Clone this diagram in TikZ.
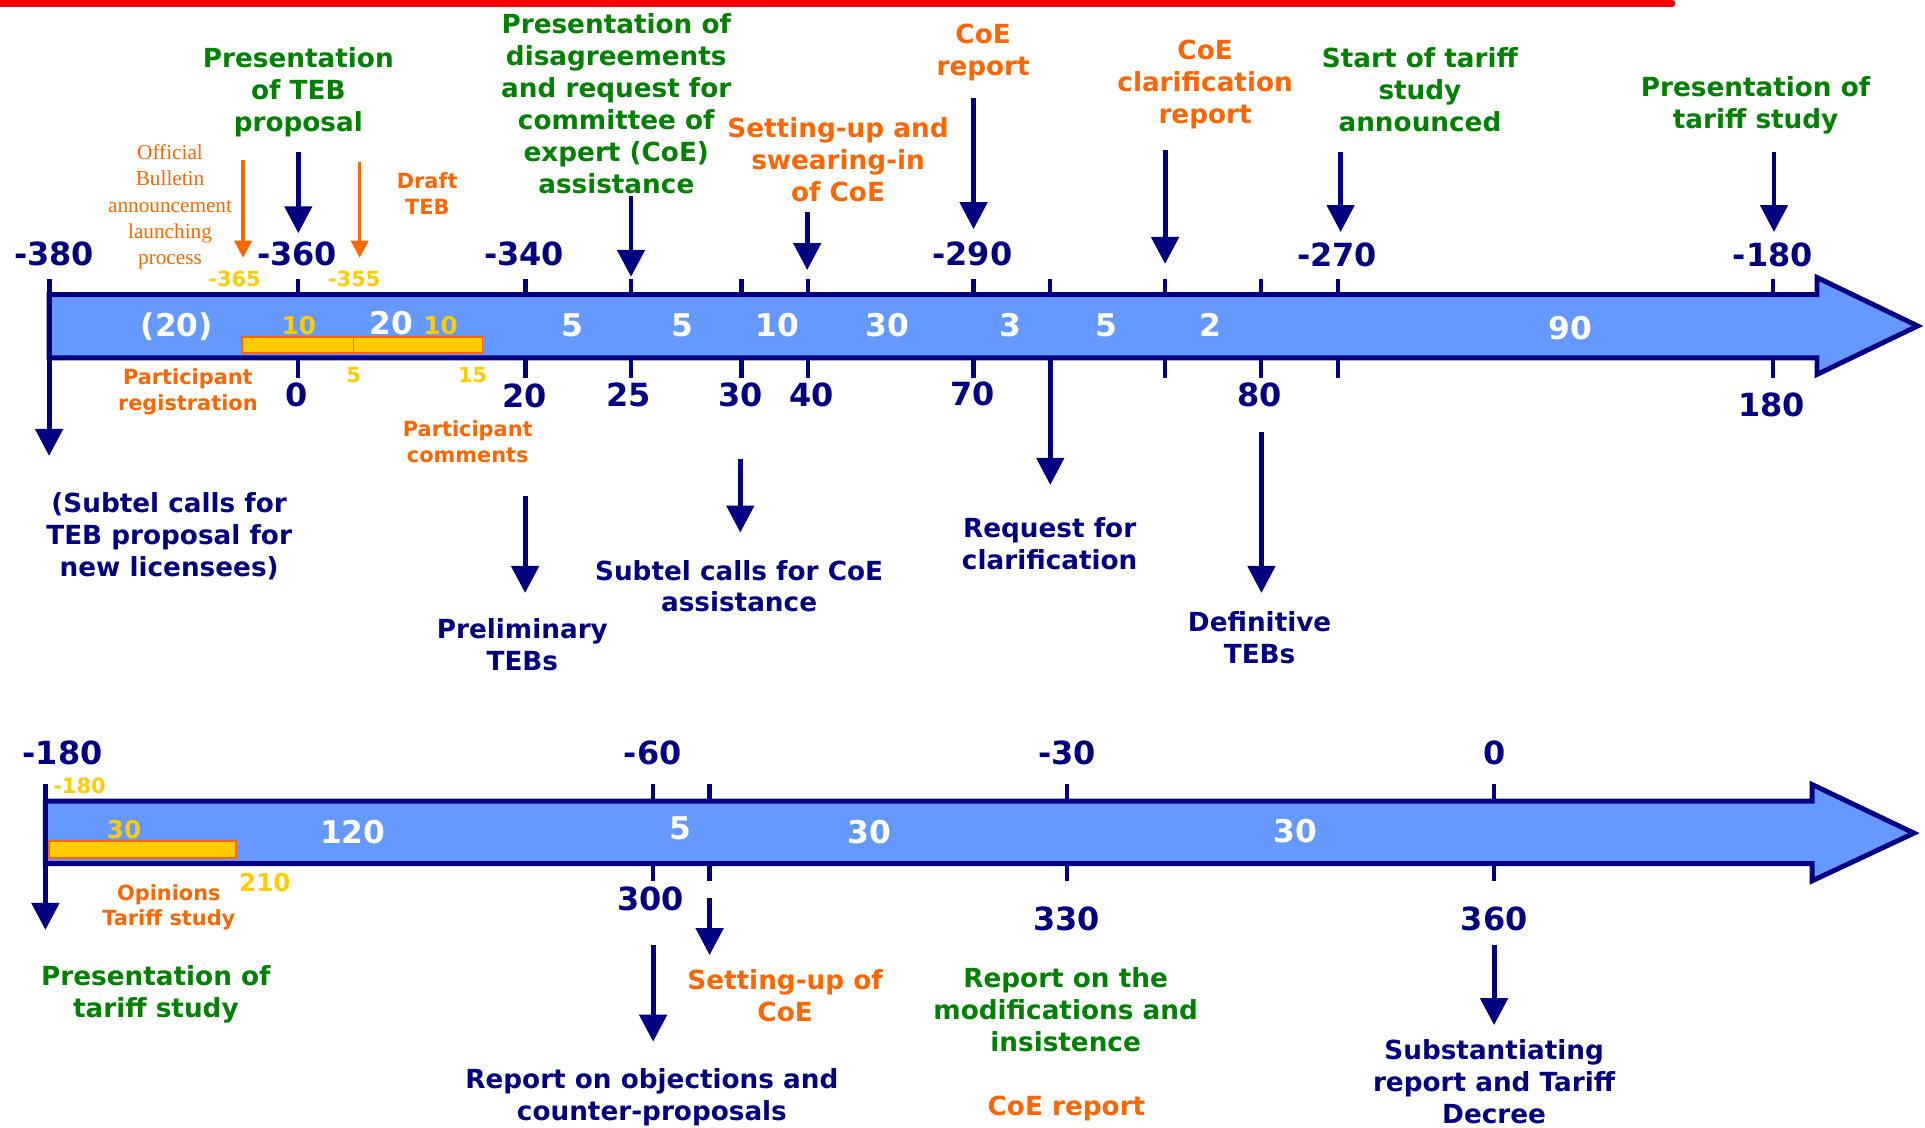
\documentclass[tikz,border=0pt]{standalone}
\usepackage{fontspec}
\setmainfont{DejaVu Sans}
\newfontfamily\serifx{Liberation Serif}
\usetikzlibrary{arrows.meta}
\definecolor{navy}{RGB}{0,0,128}
\definecolor{grn}{RGB}{0,128,0}
\definecolor{org}{RGB}{255,102,0}
\definecolor{ylw}{RGB}{255,204,0}
\definecolor{afill}{RGB}{102,153,255}
\begin{document}
\begin{tikzpicture}[x=1pt,y=-1pt,
  every node/.style={inner sep=0pt, align=center},
  bigl/.style={font=\fontsize{21.4}{26}\selectfont\bfseries},
  numl/.style={font=\fontsize{26}{30}\selectfont\bfseries, text=navy},
  wnum/.style={font=\fontsize{25.5}{30}\selectfont\bfseries, text=white},
  ysmall/.style={font=\fontsize{17}{20}\selectfont\bfseries, text=ylw},
  ymid/.style={font=\fontsize{20}{24}\selectfont\bfseries, text=ylw},
  osmall/.style={font=\fontsize{17}{21}\selectfont\bfseries, text=org},
  oserif/.style={font=\serifx\fontsize{17.3}{21.4}\selectfont, text=org},
  lnavy/.style={bigl, text=navy},
  lgreen/.style={bigl, text=grn},
  lorange/.style={bigl, text=org},
  tickl/.style={draw=navy, line width=3.5pt},
  narrow/.style={draw=navy, line width=4pt, -{Triangle[length=22pt,width=22pt]}},
  oarrow/.style={draw=org, line width=2.7pt, -{Triangle[length=14pt,width=14pt]}},
  body/.style={draw=navy, line width=4pt, fill=afill, line join=miter},
  ybar/.style={draw=org, line width=1.5pt, fill=ylw},
]
\useasboundingbox (0,0) rectangle (1568,918);
\fill[white] (0,0) rectangle (1568,918);

% red line
\coordinate (rl1) at (0,3);
\coordinate (rl2) at (1362,3);
\draw[red, line width=5.4pt, line cap=round] (rl1) -- (rl2);

% ===== top timeline =====
\draw[body] (40,240) -- (1480,240) -- (1480,226) -- (1562,265.5) -- (1480,305) -- (1480,291.5) -- (40,291.5) -- cycle;
\draw[ybar] (197,274.6) rectangle (288,287.5);
\draw[ybar] (288,274.6) rectangle (393,287.5);

\foreach \x in {243,428,514,604,658,793,855,949,1027,1090,1444}
  \draw[tickl] (\x,227.5) -- (\x,240);
\foreach \x in {243,428,514,604,658,793,949,1027,1090,1444}
  \draw[tickl] (\x,291.5) -- (\x,308);

% numbers above
\node[numl] (m380) at (44,207) {-380};
\node[numl] (m360) at (242,207) {-360};
\node[numl] (m340) at (427,207) {-340};
\node[numl] (m290) at (792,207) {-290};
\node[numl] (m270) at (1089,208) {-270};
\node[numl] (m180a) at (1444,208) {-180};
% numbers below
\node[numl] (p0) at (242,322) {0};
\node[numl] (p20) at (427,322.5) {20};
\node[numl] (p25) at (512,322) {25};
\node[numl] (p30) at (603,322) {30};
\node[numl] (p40) at (661,322) {40};
\node[numl] (p70) at (792,321) {70};
\node[numl] (p80) at (1026,322) {80};
\node[numl] (p180) at (1443,330) {180};
% white numbers
\node[wnum] (w20p) at (144,266) {(20)};
\node[wnum] (w20) at (319,263) {20};
\node[wnum] (w5a) at (466,265) {5};
\node[wnum] (w5b) at (556,265) {5};
\node[wnum] (w10) at (633,265) {10};
\node[wnum] (w30) at (723,265) {30};
\node[wnum] (w3) at (823,265) {3};
\node[wnum] (w5c) at (901,265) {5};
\node[wnum] (w2) at (986,265) {2};
\node[wnum] (w90) at (1279,267) {90};
% yellow numbers
\node[ymid] (y10a) at (243.5,265) {10};
\node[ymid] (y10b) at (359,265) {10};
\node[ysmall] (ym365) at (191,227) {-365};
\node[ysmall] (ym355) at (288.5,227) {-355};
\node[ysmall] (y5) at (288,305.5) {5};
\node[ysmall] (y15) at (385,305.5) {15};

% labels above
\node[lgreen] (teb) at (243,75) {Presentation\\of TEB\\proposal};
\node[oserif] (bull) at (138.5,168.5) {Official\\Bulletin\\announcement\\launching\\process};
\node[osmall] (draft) at (348,157.5) {Draft\\TEB};
\node[lgreen] (disag) at (502,84.5) {Presentation of\\disagreements\\and request for\\committee of\\expert (CoE)\\assistance};
\node[lorange] (swear) at (682.6,130) {Setting-up and\\swearing-in\\of CoE};
\node[lorange] (coer) at (800.8,43) {CoE\\report};
\node[lorange] (clar) at (981.6,68.5) {CoE\\clarification\\report};
\node[lgreen] (start) at (1156.6,73.3) {Start of tariff\\study\\announced};
\node[lgreen] (prest) at (1430,86) {Presentation of\\tariff study};

% labels below
\node[osmall] (preg) at (153,319) {Participant\\registration};
\node[osmall] (pcom) at (381,359.5) {Participant\\comments};
\node[lnavy] (subteb) at (137.8,436.6) {(Subtel calls for\\TEB proposal for\\new licensees)};
\node[lnavy] (prelim) at (425.5,525) {Preliminary\\TEBs};
\node[lnavy] (subcoe) at (602,477.5) {Subtel calls for CoE\\assistance};
\node[lnavy] (reqc) at (855,443) {Request for\\clarification};
\node[lnavy] (defin) at (1026,519.7) {Definitive\\TEBs};

% arrows top
\coordinate (a1s) at (243,124);   \coordinate (a1e) at (243,190);
\coordinate (o1s) at (198,130);   \coordinate (o1e) at (198,210);
\coordinate (o2s) at (293,132);   \coordinate (o2e) at (293,210);
\coordinate (a2s) at (514,160);   \coordinate (a2e) at (514,225.5);
\coordinate (a3s) at (657.5,172.5); \coordinate (a3e) at (657.5,220);
\coordinate (a4s) at (793,80);    \coordinate (a4e) at (793,186.7);
\coordinate (a5s) at (949,122);   \coordinate (a5e) at (949,215);
\coordinate (a6s) at (1092,124);  \coordinate (a6e) at (1092,189);
\coordinate (a7s) at (1445,124);  \coordinate (a7e) at (1445,189);
\draw[narrow] (a1s) -- (a1e);
\draw[oarrow] (o1s) -- (o1e);
\draw[oarrow] (o2s) -- (o2e);
\draw[narrow] (a2s) -- (a2e);
\draw[narrow] (a3s) -- (a3e);
\draw[narrow] (a4s) -- (a4e);
\draw[narrow] (a5s) -- (a5e);
\draw[narrow] (a6s) -- (a6e);
\draw[narrow] (a7s) -- (a7e);
% arrows below
\coordinate (d1s) at (40,227.5);  \coordinate (d1e) at (40,371.4);
\coordinate (d2s) at (855.5,291.5); \coordinate (d2e) at (855.5,395);
\coordinate (d3s) at (427.7,404); \coordinate (d3e) at (427.7,483);
\coordinate (d4s) at (603,374);   \coordinate (d4e) at (603,433.8);
\coordinate (d5s) at (1027.5,351.6); \coordinate (d5e) at (1027.5,483);
\draw[narrow] (d1s) -- (d1e);
\draw[narrow] (d2s) -- (d2e);
\draw[narrow] (d3s) -- (d3e);
\draw[narrow] (d4s) -- (d4e);
\draw[narrow] (d5s) -- (d5e);

% ===== bottom timeline =====
\draw[body] (37,652.5) -- (1476,652.5) -- (1476,639) -- (1559,678.6) -- (1476,717.5) -- (1476,703.5) -- (37,703.5) -- cycle;
\draw[ybar] (40,685) rectangle (192,699);
\foreach \x in {532,578,869,1217}
  \draw[tickl] (\x,638.6) -- (\x,652.5);
\foreach \x in {532,578,869,1217}
  \draw[tickl] (\x,703.5) -- (\x,718);

\node[numl] (b180) at (51,613) {-180};
\node[numl] (b60) at (531.6,613) {-60};
\node[numl] (b30) at (869,613) {-30};
\node[numl] (b0) at (1217,613) {0};
\node[numl] (b300) at (530,732) {300};
\node[numl] (b330) at (869,748.6) {330};
\node[numl] (b360) at (1217,748.6) {360};
\node[ysmall] (by180) at (64.7,640) {-180};
\node[ymid] (by30) at (101,676) {30};
\node[ymid] (by210) at (215.7,719) {210};
\node[wnum] (bw120) at (287.3,677.6) {120};
\node[wnum] (bw5) at (554,675) {5};
\node[wnum] (bw30a) at (708,677.6) {30};
\node[wnum] (bw30b) at (1055,677) {30};

\node[osmall, font=\fontsize{17}{20.6}\selectfont\bfseries] (opin) at (137.5,738.8) {Opinions\\Tariff study};
\node[lgreen] (bpres) at (127,810) {Presentation of\\tariff study};
\node[lorange] (bset) at (639.5,811) {Setting-up of\\CoE};
\node[lnavy] (bobj) at (531,894) {Report on objections and\\counter-proposals};
\node[lgreen] (bmod) at (868,822.7) {Report on the\\modifications and\\insistence};
\node[lorange] (bcoe) at (868.7,902.7) {CoE report};
\node[lnavy] (bsub) at (1217,881) {Substantiating\\report and Tariff\\Decree};

\coordinate (e1s) at (37,638.6);  \coordinate (e1e) at (37,757.5);
\coordinate (e2s) at (578,731.5); \coordinate (e2e) at (578,778);
\coordinate (e3s) at (532,770);   \coordinate (e3e) at (532,848.5);
\coordinate (e4s) at (1217,770);  \coordinate (e4e) at (1217,835);
\draw[narrow] (e1s) -- (e1e);
\draw[narrow] (e2s) -- (e2e);
\draw[narrow] (e3s) -- (e3e);
\draw[narrow] (e4s) -- (e4e);
\end{tikzpicture}
\end{document}
